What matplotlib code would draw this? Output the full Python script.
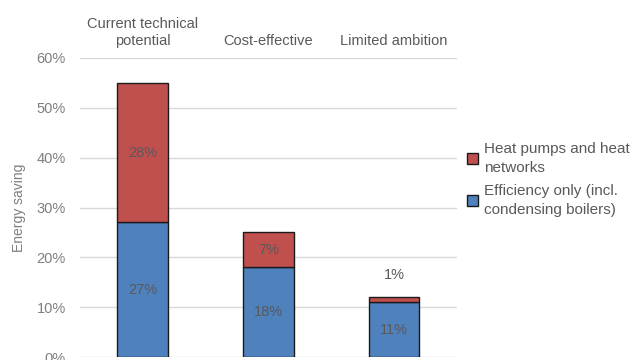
import matplotlib.pyplot as plt
from matplotlib.ticker import PercentFormatter

plt.rcParams['font.family'] = ['Liberation Sans', 'DejaVu Sans']

scenarios = ['Current technical\npotential', 'Cost-effective', 'Limited ambition']
efficiency = [27, 18, 11]
heat_pumps = [28, 7, 1]
yticks = [0, 10, 20, 30, 40, 50, 60]

blue = '#4F81BD'
red = '#C0504D'
grey = '#7F7F7F'

fig = plt.figure(figsize=(6.33, 3.6), dpi=100)
ax = fig.add_axes([0.126, 0.008, 0.596, 0.831])

x = range(len(scenarios))
ax.bar(x, efficiency, width=0.4, color=blue, edgecolor='#1a1a1a', linewidth=1.0,
       label='Efficiency only (incl.\ncondensing boilers)', zorder=3)
ax.bar(x, heat_pumps, width=0.4, bottom=efficiency, color=red, edgecolor='#1a1a1a',
       linewidth=1.0, label='Heat pumps and heat\nnetworks', zorder=3)

# value labels
for i in x:
    ax.text(i, efficiency[i] / 2, '%d%%' % efficiency[i], ha='center', va='center',
            color='#595959', fontsize=10.5, zorder=4)
    if heat_pumps[i] >= 5:
        ax.text(i, efficiency[i] + heat_pumps[i] / 2, '%d%%' % heat_pumps[i],
                ha='center', va='center', color='#595959', fontsize=10.5, zorder=4)
    else:
        ax.text(i, efficiency[i] + heat_pumps[i] + 4.5, '%d%%' % heat_pumps[i],
                ha='center', va='center', color='#595959', fontsize=10.5, zorder=4)

ax.set_xlim(-0.5, 2.5)
ax.set_ylim(0, 60)
ax.set_yticks(yticks)
ax.yaxis.set_major_formatter(PercentFormatter(decimals=0))
ax.grid(axis='y', color='#D9D9D9', linewidth=1.0, zorder=0)
ax.tick_params(axis='y', length=0, colors=grey, labelsize=10.5, pad=10)
ax.tick_params(axis='x', length=0, labelbottom=False)
for s in ax.spines.values():
    s.set_visible(False)

# scenario names above the plot
for i in x:
    ax.text(i, 62, scenarios[i], ha='center', va='bottom', color='#595959',
            fontsize=10.5, linespacing=1.3)

ax.set_ylabel('Energy saving', color=grey, fontsize=10, labelpad=8)

handles, labels = ax.get_legend_handles_labels()
leg = ax.legend(handles[::-1], labels[::-1], loc='upper left', bbox_to_anchor=(0.99, 0.765),
                frameon=False, fontsize=11, labelcolor='#595959', handlelength=0.7,
                handleheight=0.7, handletextpad=0.4, labelspacing=0.6)
for t in leg.get_texts():
    t.set_linespacing(1.45)

fig.savefig('out.png', dpi=100)
